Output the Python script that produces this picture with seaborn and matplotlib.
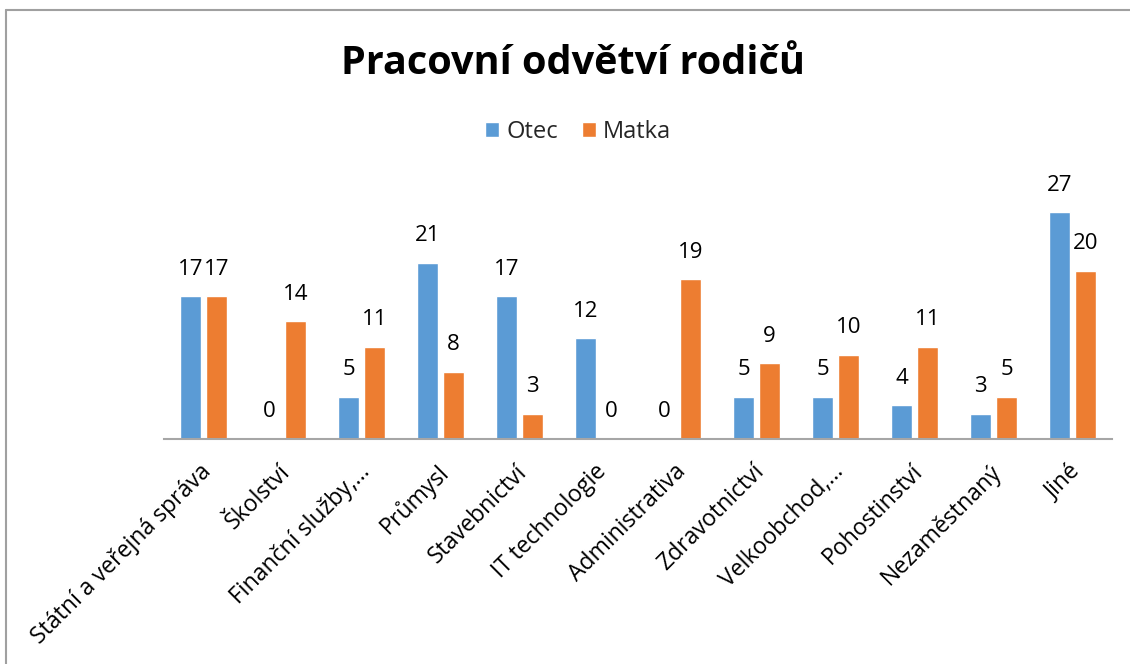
import matplotlib
matplotlib.use("Agg")
import matplotlib.pyplot as plt
import matplotlib.transforms as mtransforms
import seaborn as sns
import pandas as pd
from matplotlib.lines import Line2D
from matplotlib.patches import Patch

categories = ["Státní a veřejná správa", "Školství", "Finanční služby,…", "Průmysl",
              "Stavebnictví", "IT technologie", "Administrativa", "Zdravotnictví",
              "Velkoobchod,…", "Pohostinství", "Nezaměstnaný", "Jiné"]
otec = [17, 0, 5, 21, 17, 12, 0, 5, 5, 4, 3, 27]
matka = [17, 14, 11, 8, 3, 0, 19, 9, 10, 11, 5, 20]
series = ["Otec", "Matka"]
colors = ["#5B9BD5", "#ED7D31"]
title = "Pracovní odvětví rodičů"

sns.set_theme(style="white")
plt.rcParams["font.family"] = ["Open Sans", "DejaVu Sans"]

df = pd.DataFrame({
    "Odvětví": categories * 2,
    "Počet": otec + matka,
    "Rodič": [series[0]] * len(categories) + [series[1]] * len(categories),
})

W, H = 1130, 664
fig = plt.figure(figsize=(W / 100, H / 100), dpi=100)
ax = fig.add_axes([164 / W, (H - 439) / H, 948 / W, 252 / H])

sns.barplot(data=df, x="Odvětví", y="Počet", hue="Rodič", order=categories,
            hue_order=series, palette=colors, width=0.66, gap=0.19,
            saturation=1, ax=ax, legend=False)

ax.set_ylim(0, 30)
ax.set_xlim(-0.5, len(categories) - 0.5)
for c in ax.containers:
    ax.bar_label(c, padding=12, fontsize=16, color="#000000")

ax.set_xlabel("")
ax.set_ylabel("")
ax.set_yticks([])
for s in ["top", "right", "left"]:
    ax.spines[s].set_visible(False)
ax.spines["bottom"].set_color("#A6A6A6")
ax.spines["bottom"].set_linewidth(1.5)
ax.tick_params(axis="x", length=0, pad=15)
ax.set_xticks(range(len(categories)))
ax.set_xticklabels(categories, rotation=45, ha="right", rotation_mode="anchor",
                   fontsize=16.6, color="#000000")
shift = mtransforms.ScaledTranslation(-4 / 100, 0, fig.dpi_scale_trans)
for lbl in ax.get_xticklabels():
    lbl.set_transform(lbl.get_transform() + shift)

fig.text(573 / W, 1 - 63 / H, title, ha="center", va="center",
         fontsize=28.5, fontweight="bold", color="#000000")

handles = [Patch(facecolor=colors[0]), Patch(facecolor=colors[1])]
fig.legend(handles, series, loc="center", bbox_to_anchor=(578 / W, 1 - 132 / H),
           ncol=2, frameon=False, fontsize=17, handlelength=0.6, handleheight=0.6,
           handletextpad=0.3, columnspacing=1.0)

# chart frame (top and left edges visible)
fig.add_artist(Line2D([6 / W, 1], [1 - 10 / H, 1 - 10 / H], color="#A0A0A0", lw=1.5,
                      transform=fig.transFigure))
fig.add_artist(Line2D([6 / W, 6 / W], [0, 1 - 10 / H], color="#A0A0A0", lw=1.5,
                      transform=fig.transFigure))

fig.savefig("out.png", dpi=100, facecolor="white")
